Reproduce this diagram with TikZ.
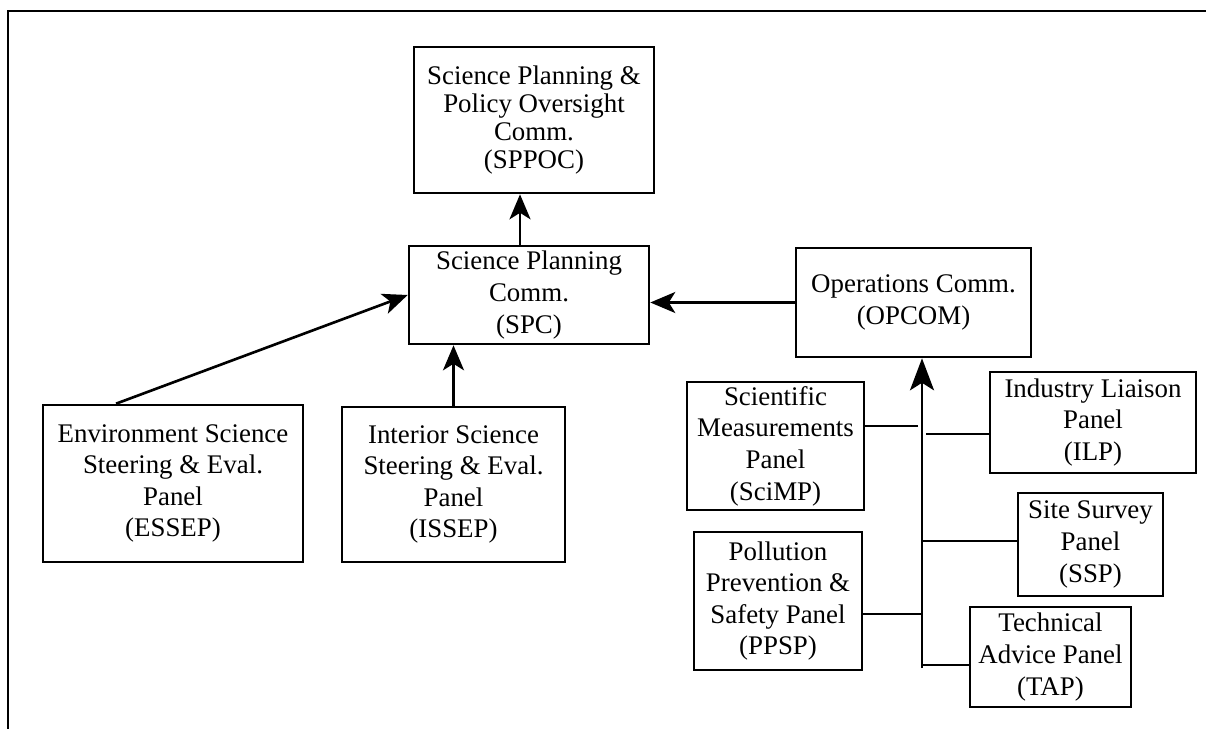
\documentclass[tikz,border=0pt]{standalone}
\usepackage{fontspec}
\setmainfont{Liberation Serif}
\usetikzlibrary{arrows.meta, positioning, calc}
\tikzset{
  panel/.style={rectangle, draw=black, align=center, inner sep=0pt,
    font=\fontsize{15.3}{18}\selectfont, line width=1.5pt},
  arrow/.style={-{Stealth[length=0.5cm, width=0.42cm, inset=0.13cm]}, line width=1.5pt},
  bigarrow/.style={-{Stealth[length=0.64cm, width=0.48cm, inset=0.15cm]}, line width=1.5pt},
  line/.style={line width=1.5pt},
  frame/.style={line width=1.6pt}
}

\begin{document}
\begin{tikzpicture}[x=0.02cm, y=-0.02cm]
  \useasboundingbox (0,0) rectangle (1206,729);
  % page frame (only top and left edge show)
  \draw[frame] (1206,11) -- (8,11) -- (8,729);
  % committees
  \node[panel, minimum width=4.8cm, minimum height=2.92cm,
        font=\fontsize{15.3}{16}\selectfont] (sppoc) at (534,120)
        {Science Planning \&\\Policy Oversight\\Comm.\\(SPPOC)};
  \node[panel, minimum width=4.8cm, minimum height=1.96cm] (spc) at (529,295)
        {Science Planning\\Comm.\\(SPC)};
  \node[panel, minimum width=4.7cm, minimum height=2.18cm] (opcom) at (913.5,302.5)
        {Operations Comm.\\(OPCOM)};
  % science panels
  \node[panel, minimum width=5.2cm, minimum height=3.14cm] (essep) at (173,483.5)
        {Environment Science\\Steering \& Eval.\\Panel\\(ESSEP)};
  \node[panel, minimum width=4.46cm, minimum height=3.1cm] (issep) at (453.5,484.5)
        {Interior Science\\Steering \& Eval.\\Panel\\(ISSEP)};
  % service panels
  \node[panel, minimum width=3.54cm, minimum height=2.56cm] (scimp) at (775.5,446)
        {Scientific\\Measurements\\Panel\\(SciMP)};
  \node[panel, minimum width=3.36cm, minimum height=2.76cm] (ppsp) at (778,601)
        {Pollution\\Prevention \&\\Safety Panel\\(PPSP)};
  \node[panel, minimum width=4.12cm, minimum height=2.02cm] (ilp) at (1093,422.5)
        {Industry Liaison\\Panel\\(ILP)};
  \node[panel, minimum width=2.9cm, minimum height=2.06cm] (ssp) at (1090.5,544.5)
        {Site Survey\\Panel\\(SSP)};
  \node[panel, minimum width=3.22cm, minimum height=2.0cm] (tap) at (1050.5,657)
        {Technical\\Advice Panel\\(TAP)};
  % reporting lines
  \draw[arrow] ([xshift=-0.18cm]spc.north) -- ([xshift=-0.18cm]spc.north |- sppoc.south);
  \draw[arrow] (opcom.west) -- (opcom.west -| spc.east);
  \draw[arrow] ([xshift=-1.14cm]essep.north) -- (spc.west);
  \draw[arrow] (issep.north) -- (issep.north |- spc.south);
  % bus up to OPCOM
  \coordinate (busbot) at (922,668);
  \coordinate (tapsci) at (918,426);
  \coordinate (tapilp) at (926,434);
  \coordinate (tapssp) at (922,541);
  \coordinate (tapppsp) at (922,614);
  \coordinate (taptap) at (922,665);
  \draw[bigarrow] (busbot) -- (busbot |- opcom.south);
  \draw[line] (tapsci) -- (tapsci -| scimp.east);
  \draw[line] (tapilp) -- (tapilp -| ilp.west);
  \draw[line] (tapssp) -- (tapssp -| ssp.west);
  \draw[line] (tapppsp) -- (tapppsp -| ppsp.east);
  \draw[line] (taptap) -- (taptap -| tap.west);
\end{tikzpicture}
\end{document}
